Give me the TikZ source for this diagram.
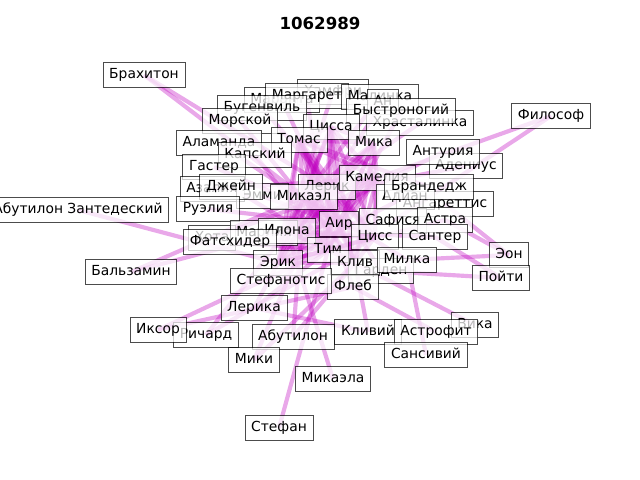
\documentclass[tikz,border=0pt]{standalone}
\usepackage{fontspec}
\setmainfont{DejaVu Sans}
\usetikzlibrary{backgrounds}

\definecolor{edgemag}{RGB}{191,0,191}
\tikzset{
  lbl/.style={draw=black, draw opacity=0.7, fill=white, fill opacity=0.72,
    text opacity=1, line width=0.65pt, inner xsep=4.5pt, inner ysep=0pt,
    minimum height=17.6pt, text height=7.5pt, text depth=2pt},
  edge/.style={edgemag, opacity=0.34, line width=3pt},
}

\begin{document}
\begin{tikzpicture}[x=0.01in, y=-0.01in]
    \useasboundingbox (0,0) rectangle (640,480);

    \node[font=\bfseries\fontsize{12}{14}\selectfont] (title) at (320,23) {1062989};

    % labels, in drawing order
    \node[lbl] (khamfri) at (333,92) {Хамфри};
    \node[lbl] (maranta) at (282,100) {Маранта};
    \node[lbl] (margaret) at (307,96) {Маргарет};
    \node[lbl] (malinka) at (380,97) {Малинка};
    \node[lbl] (an) at (383,102) {Ан};
    \node[lbl] (khrast) at (420,123) {Храсталинка};
    \node[lbl] (bystro) at (401,111) {Быстроногий};
    \node[lbl] (bugenv) at (262,108) {Бугенвиль};
    \node[lbl] (morskoy) at (240,121) {Морской};
    \node[lbl] (tsissa) at (331,127) {Цисса};
    \node[lbl] (tomas) at (299,140) {Томас};
    \node[lbl] (mika) at (374,143) {Мика};
    \node[lbl] (alamanda) at (219,143) {Аламанда};
    \node[lbl] (kapskiy) at (255,155) {Капский};
    \node[lbl] (adenius) at (466,166) {Адениус};
    \node[lbl] (anturiya) at (443,152) {Антурия};
    \node[lbl] (gaster) at (214,167) {Гастер};
    \node[lbl] (lerik) at (327,187) {Лерик};
    \node[lbl] (kameliya) at (377,178) {Камелия};
    \node[lbl] (angar) at (445,204) {Ангареттис};
    \node[lbl] (adian) at (405,197) {Адиан};
    \node[lbl] (brandedzh) at (429,187) {Брандедж};
    \node[lbl] (azaliya) at (212,189) {Азалия};
    \node[lbl] (emmi) at (262,196) {Эмми};
    \node[lbl] (dzheyn) at (231,187) {Джейн};
    \node[lbl] (mikael) at (304,197) {Микаэл};
    \node[lbl] (ruelia) at (208,209) {Руэлия};
    \node[lbl] (zantedesk) at (78,210) {Абутилон Зантедеский};
    \node[lbl] (khota) at (212,238) {Хота};
    \node[lbl] (marliya) at (264,233) {Марлия};
    \node[lbl] (ilona) at (287,231) {Илона};
    \node[lbl] (fatskh) at (230,242) {Фатсхидер};
    \node[lbl] (air) at (339,224) {Аир};
    \node[lbl] (safisya) at (393,221) {Сафися};
    \node[lbl] (astra) at (445,220) {Астра};
    \node[lbl] (tsiss) at (375,237) {Цисс};
    \node[lbl] (santer) at (435,237) {Сантер};
    \node[lbl] (tim) at (328,250) {Тим};
    \node[lbl] (erik) at (278,263) {Эрик};
    \node[lbl] (garden) at (381,271) {Гарден};
    \node[lbl] (kliv) at (355,263) {Клив};
    \node[lbl] (milka) at (407,260) {Милка};
    \node[lbl] (fleb) at (353,287) {Флеб};
    \node[lbl] (balzamin) at (131,272) {Бальзамин};
    \node[lbl] (stefanot) at (281,281) {Стефанотис};
    \node[lbl] (eon) at (509,255) {Эон};
    \node[lbl] (poyti) at (501,278) {Пойти};
    \node[lbl] (lerika) at (254,308) {Лерика};
    \node[lbl] (richard) at (206,335) {Ричард};
    \node[lbl] (iksor) at (158,330) {Иксор};
    \node[lbl] (abutilon) at (293,337) {Абутилон};
    \node[lbl] (kliviy) at (368,332) {Кливий};
    \node[lbl] (vika) at (475,325) {Вика};
    \node[lbl] (astrofit) at (436,332) {Астрофит};
    \node[lbl] (sansiviy) at (426,355) {Сансивий};
    \node[lbl] (miki) at (254,360) {Мики};
    \node[lbl] (mikaela) at (333,379) {Микаэла};
    \node[lbl] (stefan) at (279,428) {Стефан};
    \node[lbl] (brakhiton) at (144,75) {Брахитон};
    \node[lbl] (filosof) at (551,116) {Философ};

    % connectors under the labels
    \begin{pgfonlayer}{background}
    \foreach \a [count=\i] in {lerik,mikael,tim,air,tomas,tsissa,ilona,kameliya,tsiss,kliv,erik,mika}
        \foreach \b [count=\j] in {lerik,mikael,tim,air,tomas,tsissa,ilona,kameliya,tsiss,kliv,erik,mika}
            {\ifnum\j>\i \draw[edge] (\a.center) -- (\b.center); \fi}
    \foreach \a/\b in {brakhiton/lerik, brakhiton/air, filosof/kameliya, filosof/safisya,
        margaret/tim, khamfri/ilona, maranta/air, malinka/mikael, an/erik, khrast/lerik,
        bystro/tim, bugenv/tsiss, morskoy/kliv, alamanda/air, kapskiy/tim, adenius/mikael,
        anturiya/ilona, gaster/tsiss, brandedzh/tomas, adian/erik, angar/eon, azaliya/kameliya,
        emmi/tsiss, dzheyn/kliv, ruelia/air, zantedesk/erik, balzamin/mikael, balzamin/ilona,
        khota/kameliya, marliya/tsiss, fatskh/tim, astra/eon, eon/milka, poyti/garden,
        santer/poyti, kliv/vika, fleb/astrofit, milka/sansiviy, kliv/kliviy, mikaela/ilona,
        stefan/tim, miki/kliv, miki/lerik, iksor/tim, iksor/fleb, richard/ilona, richard/tsiss,
        abutilon/kliv, abutilon/mikael, lerika/tim, lerika/kliviy, stefanot/kameliya,
        erik/lerika, garden/tomas, milka/mikael, fleb/tomas, santer/ilona, astra/erik}
        \draw[edge] (\a.center) -- (\b.center);
    \end{pgfonlayer}
\end{tikzpicture}
\end{document}
